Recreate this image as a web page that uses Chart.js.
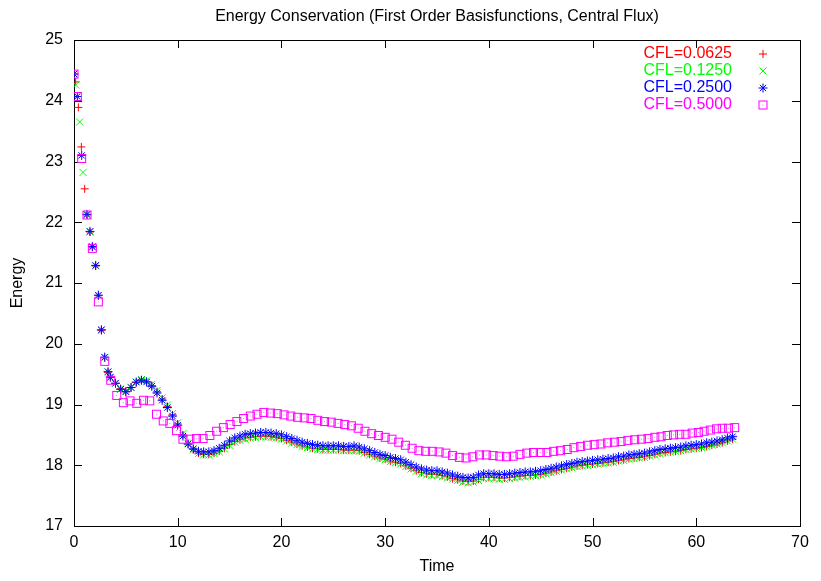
<!DOCTYPE html>
<html>
<head>
<meta charset="utf-8">
<script src="https://cdn.jsdelivr.net/npm/chart.js@4/dist/chart.umd.min.js"></script>
<style>
  html, body { margin: 0; padding: 0; background: #fff; }
  canvas { display: block; }
</style>
</head>
<body>
<canvas id="energyChart" width="821" height="581"></canvas>
<script>
// early samples differ per run, after t=3.5 the three small CFL runs share output times
var redEarlyTime = [0, 0.16, 0.42, 0.71, 1.03, 1.25, 1.54, 1.77, 2.09, 2.35, 2.64, 2.96, 3.28]
var redEarlyEnergy = [24.44, 24.31, 23.89, 23.24, 22.55, 22.12, 21.84, 21.59, 21.28, 20.79, 20.22, 19.77, 19.53]
var greenEarlyTime = [0, 0.16, 0.55, 0.87, 1.25, 1.54, 1.77, 2.09, 2.35, 2.64, 2.96, 3.28]
var greenEarlyEnergy = [24.44, 24.26, 23.65, 22.82, 22.12, 21.84, 21.59, 21.28, 20.79, 20.22, 19.77, 19.53]
var blueEarlyTime = [0, 0.32, 0.74, 1.25, 1.54, 1.77, 2.09, 2.35, 2.64, 2.96, 3.28]
var blueEarlyEnergy = [24.44, 24.07, 23.10, 22.13, 21.85, 21.60, 21.29, 20.80, 20.23, 19.78, 19.54]

var fineTime = [
  3.5, 4, 4.5, 5, 5.5, 6, 6.5, 7, 7.5, 8,
  8.5, 9, 9.5, 10, 10.5, 11, 11.5, 12, 12.5, 13,
  13.5, 14, 14.5, 15, 15.5, 16, 16.5, 17, 17.5, 18,
  18.5, 19, 19.5, 20, 20.5, 21, 21.5, 22, 22.5, 23,
  23.5, 24, 24.5, 25, 25.5, 26, 26.5, 27, 27.5, 28,
  28.5, 29, 29.5, 30, 30.5, 31, 31.5, 32, 32.5, 33,
  33.5, 34, 34.5, 35, 35.5, 36, 36.5, 37, 37.5, 38,
  38.5, 39, 39.5, 40, 40.5, 41, 41.5, 42, 42.5, 43,
  43.5, 44, 44.5, 45, 45.5, 46, 46.5, 47, 47.5, 48,
  48.5, 49, 49.5, 50, 50.5, 51, 51.5, 52, 52.5, 53,
  53.5, 54, 54.5, 55, 55.5, 56, 56.5, 57, 57.5, 58,
  58.5, 59, 59.5, 60, 60.5, 61, 61.5, 62, 62.5, 63,
  63.5]

var redEnergy = [
  19.45, 19.35, 19.26, 19.21, 19.28, 19.36, 19.40, 19.38, 19.31, 19.21,
  19.09, 18.97, 18.83, 18.68, 18.50, 18.35, 18.26, 18.20, 18.18, 18.18,
  18.20, 18.23, 18.28, 18.34, 18.39, 18.42, 18.45, 18.46, 18.47, 18.48,
  18.48, 18.47, 18.46, 18.44, 18.41, 18.38, 18.35, 18.32, 18.30, 18.28,
  18.27, 18.26, 18.26, 18.26, 18.26, 18.25, 18.25, 18.25, 18.24, 18.21,
  18.18, 18.15, 18.12, 18.10, 18.07, 18.05, 18.03, 17.99, 17.95, 17.91,
  17.88, 17.86, 17.85, 17.85, 17.83, 17.81, 17.78, 17.76, 17.74, 17.73,
  17.74, 17.77, 17.80, 17.80, 17.80, 17.79, 17.79, 17.80, 17.81, 17.82,
  17.83, 17.83, 17.84, 17.85, 17.87, 17.89, 17.91, 17.93, 17.95, 17.97,
  17.99, 18.00, 18.01, 18.02, 18.03, 18.04, 18.05, 18.06, 18.08, 18.09,
  18.11, 18.12, 18.13, 18.14, 18.16, 18.18, 18.20, 18.21, 18.22, 18.23,
  18.24, 18.26, 18.27, 18.28, 18.29, 18.31, 18.33, 18.35, 18.37, 18.40,
  18.43]

var greenEnergy = [
  19.44, 19.35, 19.26, 19.22, 19.28, 19.37, 19.41, 19.39, 19.33, 19.23,
  19.11, 18.99, 18.85, 18.70, 18.52, 18.36, 18.25, 18.19, 18.17, 18.17,
  18.19, 18.22, 18.27, 18.33, 18.38, 18.41, 18.43, 18.45, 18.46, 18.47,
  18.47, 18.46, 18.45, 18.43, 18.40, 18.37, 18.34, 18.31, 18.29, 18.27,
  18.26, 18.25, 18.25, 18.25, 18.25, 18.24, 18.24, 18.24, 18.23, 18.20,
  18.17, 18.14, 18.11, 18.09, 18.06, 18.04, 18.02, 17.98, 17.94, 17.90,
  17.86, 17.84, 17.83, 17.83, 17.81, 17.79, 17.77, 17.75, 17.72, 17.71,
  17.72, 17.75, 17.78, 17.78, 17.78, 17.77, 17.77, 17.78, 17.79, 17.80,
  17.81, 17.82, 17.83, 17.84, 17.86, 17.88, 17.90, 17.92, 17.94, 17.96,
  17.98, 17.99, 18.00, 18.01, 18.02, 18.03, 18.04, 18.05, 18.07, 18.08,
  18.10, 18.11, 18.12, 18.13, 18.15, 18.17, 18.19, 18.21, 18.22, 18.23,
  18.24, 18.26, 18.27, 18.28, 18.29, 18.31, 18.33, 18.35, 18.37, 18.40,
  18.43]

var blueEnergy = [
  19.45, 19.35, 19.25, 19.21, 19.28, 19.37, 19.40, 19.37, 19.30, 19.19,
  19.07, 18.95, 18.81, 18.66, 18.48, 18.35, 18.27, 18.23, 18.22, 18.22,
  18.24, 18.28, 18.33, 18.40, 18.45, 18.48, 18.51, 18.52, 18.53, 18.54,
  18.54, 18.53, 18.52, 18.50, 18.47, 18.44, 18.41, 18.38, 18.36, 18.34,
  18.33, 18.32, 18.32, 18.32, 18.32, 18.31, 18.31, 18.32, 18.30, 18.27,
  18.24, 18.21, 18.18, 18.16, 18.13, 18.11, 18.09, 18.05, 18.01, 17.97,
  17.94, 17.92, 17.91, 17.91, 17.89, 17.87, 17.84, 17.82, 17.80, 17.79,
  17.80, 17.84, 17.86, 17.86, 17.86, 17.85, 17.85, 17.86, 17.87, 17.88,
  17.89, 17.89, 17.90, 17.91, 17.93, 17.95, 17.97, 17.99, 18.01, 18.03,
  18.05, 18.06, 18.07, 18.08, 18.09, 18.10, 18.11, 18.12, 18.14, 18.15,
  18.17, 18.18, 18.19, 18.20, 18.22, 18.24, 18.26, 18.27, 18.28, 18.29,
  18.30, 18.32, 18.33, 18.34, 18.35, 18.37, 18.38, 18.40, 18.42, 18.45,
  18.47]

var magentaTime = [
  0, 0.32, 0.74, 1.25, 1.77, 2.35, 2.96, 3.54, 4.12, 4.76,
  5.4, 6.05, 6.7, 7.3, 7.95, 8.6, 9.24, 9.88, 10.5, 11.17,
  11.8, 12.45, 13.1, 13.75, 14.4, 15.05, 15.7, 16.35, 17.0, 17.65,
  18.3, 18.95, 19.6, 20.25, 20.9, 21.55, 22.2, 22.85, 23.5, 24.15,
  24.8, 25.45, 26.1, 26.75, 27.4, 28.05, 28.7, 29.35, 30.0, 30.65,
  31.3, 31.95, 32.6, 33.25, 33.9, 34.55, 35.2, 35.85, 36.5, 37.15,
  37.8, 38.45, 39.1, 39.75, 40.4, 41.05, 41.7, 42.35, 43.0, 43.65,
  44.3, 44.95, 45.6, 46.25, 46.9, 47.55, 48.2, 48.85, 49.5, 50.15,
  50.8, 51.45, 52.1, 52.75, 53.4, 54.05, 54.7, 55.35, 56.0, 56.6,
  57.2, 57.8, 58.4, 59.0, 59.6, 60.2, 60.75, 61.35, 61.95, 62.5,
  63.1, 63.7]
var magentaEnergy = [
  24.44, 24.07, 23.05, 22.12, 21.57, 20.69, 19.71, 19.40, 19.15, 19.03,
  19.06, 19.02, 19.07, 19.06, 18.84, 18.73, 18.69, 18.57, 18.43, 18.43,
  18.44, 18.44, 18.49, 18.56, 18.62, 18.67, 18.72, 18.77, 18.81, 18.84,
  18.87, 18.86, 18.85, 18.83, 18.81, 18.79, 18.78, 18.77, 18.74, 18.72,
  18.71, 18.69, 18.67, 18.65, 18.61, 18.56, 18.52, 18.49, 18.46, 18.43,
  18.38, 18.33, 18.28, 18.24, 18.23, 18.23, 18.22, 18.20, 18.16, 18.13,
  18.12, 18.14, 18.17, 18.17, 18.16, 18.15, 18.14, 18.15, 18.18, 18.20,
  18.21, 18.21, 18.21, 18.23, 18.24, 18.26, 18.29, 18.31, 18.33, 18.34,
  18.35, 18.37, 18.38, 18.39, 18.41, 18.42, 18.43, 18.44, 18.46, 18.47,
  18.49, 18.50, 18.51, 18.51, 18.53, 18.54, 18.56, 18.58, 18.60, 18.61,
  18.61, 18.62]

var xTicks = [0, 10, 20, 30, 40, 50, 60, 70]
var yTicks = [17, 18, 19, 20, 21, 22, 23, 24, 25]

var FONT = "'Liberation Sans', Arial, sans-serif"
var FONT_SIZE = 16

function toPoints(times, values){
    var result = []
    for(var i = 0; i < times.length; i++){
        result.push({x: times[i], y: values[i]})
    }
    return result
}

// gnuplot style open square with a dot in the middle
function squareDot(color){
    var c = document.createElement('canvas')
    c.width = 11
    c.height = 11
    var g = c.getContext('2d')
    g.strokeStyle = color
    g.lineWidth = 1
    g.strokeRect(1.5, 1.5, 8, 8)
    g.fillStyle = color
    g.globalAlpha = 0.6
    g.fillRect(5, 5, 1, 1)
    return c
}

var markers = {
    red: {pointStyle: 'cross', radius: 4},
    green: {pointStyle: 'crossRot', radius: 5},
    blue: {pointStyle: 'star', radius: 4.5},
    magenta: {pointStyle: squareDot('#ff00ff'), radius: 5}
}

function makeDataset(label, color, marker, points, order){
    return {
        label: label,
        data: points,
        showLine: false,
        borderColor: color,
        backgroundColor: color,
        pointStyle: marker.pointStyle,
        pointRadius: marker.radius,
        pointBorderWidth: 1,
        pointBorderColor: color,
        pointBackgroundColor: 'rgba(0,0,0,0)',
        order: order
    }
}

var datasets = [
    makeDataset('CFL=0.0625', '#ff0000', markers.red,
        toPoints(redEarlyTime.concat(fineTime), redEarlyEnergy.concat(redEnergy)), 4),
    makeDataset('CFL=0.1250', '#00ff00', markers.green,
        toPoints(greenEarlyTime.concat(fineTime), greenEarlyEnergy.concat(greenEnergy)), 3),
    makeDataset('CFL=0.2500', '#0000ff', markers.blue,
        toPoints(blueEarlyTime.concat(fineTime), blueEarlyEnergy.concat(blueEnergy)), 2),
    makeDataset('CFL=0.5000', '#ff00ff', markers.magenta,
        toPoints(magentaTime, magentaEnergy), 1)
]

// border box with inward ticks on all four sides
var framePlugin = {
    id: 'frame',
    beforeDatasetsDraw: function(chart){
        var c = chart.ctx, a = chart.chartArea
        var xs = chart.scales.x, ys = chart.scales.y
        var len = 8
        c.save()
        c.strokeStyle = '#000'
        c.lineWidth = 1
        c.beginPath()
        xTicks.forEach(function(v){
            var px = Math.round(xs.getPixelForValue(v)) + 0.5
            c.moveTo(px, a.bottom); c.lineTo(px, a.bottom - len)
            c.moveTo(px, a.top); c.lineTo(px, a.top + len)
        })
        yTicks.forEach(function(v){
            var py = Math.round(ys.getPixelForValue(v)) + 0.5
            c.moveTo(a.left, py); c.lineTo(a.left + len, py)
            c.moveTo(a.right, py); c.lineTo(a.right - len, py)
        })
        c.stroke()
        c.strokeRect(Math.round(a.left) + 0.5, Math.round(a.top) + 0.5,
            Math.round(a.right - a.left), Math.round(a.bottom - a.top))
        c.restore()
    }
}

// legend inside the plot, text right aligned and coloured, sample to the right
var keyPlugin = {
    id: 'key',
    afterDatasetsDraw: function(chart){
        var c = chart.ctx
        var textRight = 732, sampleX = 763, rowTop = 54, rowStep = 17
        c.save()
        c.font = FONT_SIZE + 'px ' + FONT
        c.textAlign = 'right'
        c.textBaseline = 'middle'
        chart.data.datasets.forEach(function(ds, i){
            var y = rowTop + i * rowStep
            c.fillStyle = ds.borderColor
            c.fillText(ds.label, textRight, y)
            c.strokeStyle = ds.borderColor
            c.fillStyle = 'rgba(0,0,0,0)'
            c.lineWidth = 1
            Chart.helpers.drawPoint(c, {pointStyle: ds.pointStyle, radius: ds.pointRadius,
                rotation: 0, borderWidth: 1}, sampleX, y)
        })
        c.restore()
    }
}

var tickFont = {family: FONT, size: FONT_SIZE}

var ctx = document.getElementById('energyChart').getContext('2d')
var energyChart = new Chart(ctx, {
    type: 'scatter',
    data: {datasets: datasets},
    options: {
        responsive: false,
        animation: false,
        events: [],
        layout: {padding: {top: 0, right: 21, bottom: 0, left: 0}},
        plugins: {
            legend: {display: false},
            tooltip: {enabled: false},
            title: {
                display: true,
                fullSize: false,
                text: 'Energy Conservation (First Order Basisfunctions, Central Flux)',
                color: '#000',
                font: {family: FONT, size: FONT_SIZE, weight: 'normal'},
                padding: {top: 7, bottom: 13.8}
            }
        },
        scales: {
            x: {
                type: 'linear',
                min: 0,
                max: 70,
                afterBuildTicks: function(scale){
                    scale.ticks = xTicks.map(function(v){ return {value: v} })
                },
                afterFit: function(scale){ scale.height = 55 },
                ticks: {color: '#000', font: tickFont, padding: 7, maxRotation: 0},
                grid: {display: false, drawTicks: false},
                border: {display: false},
                title: {display: true, text: 'Time', color: '#000',
                    font: tickFont, padding: {top: 0, bottom: 5}}
            },
            y: {
                type: 'linear',
                min: 17,
                max: 25,
                afterBuildTicks: function(scale){
                    scale.ticks = yTicks.map(function(v){ return {value: v} })
                },
                afterFit: function(scale){ scale.width = 74 },
                ticks: {color: '#000', font: tickFont, padding: 11},
                grid: {display: false, drawTicks: false},
                border: {display: false},
                title: {display: true, text: 'Energy', color: '#000',
                    font: tickFont, padding: {top: 8, bottom: 0}}
            }
        }
    },
    plugins: [framePlugin, keyPlugin]
});
</script>
</body>
</html>
